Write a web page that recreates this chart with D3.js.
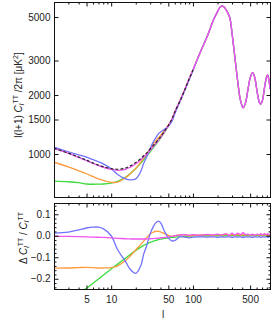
<!DOCTYPE html>
<html>
<head>
<meta charset="utf-8">
<script src="https://cdn.jsdelivr.net/npm/d3@7"></script>
<style>
body { margin: 0; background: #fff; }
svg text { font-family: "Liberation Sans", Arial, sans-serif; font-size: 10px; fill: #222; }
</style>
</head>
<body>
<svg id="chart" width="273" height="329"></svg>
<script>
// multipoles, low part where the models differ and high part where they agree
var ellLow = [2,3,4,5,6,7,8,10,12,15,17,20,23,25,27,30,33,35,38,40,45,50,55,60,70,80,90,100];
var ellHigh = [120,150,180,200,212,224,238,250,280,300,325,355,380,411,440,470,500,536,570,610,650,676,710,750,790,817,850,875];

// l(l+1)C_l/2pi in muK^2
var dlFid = [1070,1010,965,930,900,878,862,842,836,848,868,905,948,980,1010,1060,1110,1140,1190,1220,1310,1400,1500,1640,1880,2140,2420,2680];
var dlHigh = [3230,4000,4880,5330,5580,5690,5640,5500,5020,4150,3135,2295,1890,1722,1830,2130,2440,2600,2450,2070,1830,1800,1890,2180,2450,2530,2380,2150];
var dlMagenta = [1068,1007,961,925,895,872,855,834,826,836,855,891,934,965,995,1045,1095,1126,1176,1208,1300,1393,1496,1640,1886,2151,2427,2693];
var dlBlue = [1083,1027,991,963,936,913,890,842,786,746,738,747,815,897,960,1071,1160,1208,1271,1296,1336,1386,1464,1604,1872,2127,2396,2664];
var dlOrange = [908,859,822,793,767,746,733,717,719,756,790,845,910,956,1000,1068,1129,1164,1214,1242,1323,1403,1496,1638,1889,2146,2420,2685];
var dlGreen = [728,722,714,703,701,702,703,711,726,760,792,843,898,936,971,1027,1082,1115,1169,1200,1294,1386,1488,1630,1872,2134,2415,2677];

// relative difference, low part then high part
var relBlue = [0.012,0.017,0.027,0.036,0.04,0.04,0.033,0.0,-0.065,-0.12,-0.155,-0.175,-0.14,-0.085,-0.05,0.01,0.045,0.06,0.068,0.062,0.02,-0.01,-0.024,-0.022,-0.004,-0.006,-0.01,-0.006,
  -0.005,-0.006,-0.005,-0.007,-0.006,-0.005,-0.006,-0.006,-0.005,-0.007,-0.005,-0.006,-0.005,-0.007,-0.005,-0.006,-0.005,-0.007,-0.005,-0.006,-0.005,-0.007,-0.005,-0.006,-0.005,-0.007,-0.005,-0.006];
var relOrange = [-0.151,-0.15,-0.148,-0.147,-0.148,-0.15,-0.15,-0.148,-0.14,-0.115,-0.095,-0.066,-0.04,-0.025,-0.01,0.008,0.017,0.021,0.02,0.018,0.01,0.002,-0.003,-0.001,0.005,0.003,0.0,0.002,
  0.003,0.004,0.002,0.005,0.004,0.003,0.004,0.006,0.002,0.005,0.003,0.006,0.002,0.005,0.003,0.005,0.002,0.005,0.003,0.005,0.002,0.005,0.003,0.005,0.002,0.005,0.003,0.004];
var relGreen = [-0.32,-0.285,-0.26,-0.244,-0.221,-0.201,-0.184,-0.155,-0.132,-0.104,-0.088,-0.068,-0.053,-0.045,-0.039,-0.031,-0.025,-0.022,-0.018,-0.016,-0.012,-0.01,-0.008,-0.006,-0.004,-0.003,-0.002,-0.001,
  0,0,0,0.001,0,0,0,0.001,0,0.001,0,0.001,0,0.001,0,0.001,0,0.001,0,0.001,0,0.001,0,0.001,0,0.001,0,0.001];
var relMagenta = [-0.002,-0.003,-0.004,-0.005,-0.006,-0.007,-0.008,-0.01,-0.012,-0.014,-0.015,-0.015,-0.015,-0.015,-0.015,-0.014,-0.013,-0.012,-0.011,-0.01,-0.008,-0.005,-0.003,0.0,0.003,0.005,0.003,0.005,
  0.003,0.006,0.004,0.008,0.005,0.004,0.007,0.01,0.003,0.012,0.004,0.012,0.005,0.014,0.005,0.008,0.004,0.007,0.003,0.008,0.004,0.01,0.004,0.01,0.004,0.01,0.005,0.008];

var xTicks = [5,10,50,100,500];
var yTopTicks = [1000,1500,2000,3000,5000];
var yBotTicks = [-0.2,-0.1,0.0,0.1];

var colors = {blue:"#7272ff", orange:"#ff9a3c", green:"#3ddc3d", magenta:"#ee55ee"};

var svg = d3.select("#chart");
var ell = ellLow.concat(ellHigh);

var x = d3.scaleLog().domain([2, 875]).range([54, 270]);
var yTop = d3.scaleLog().domain([600, 6000]).range([197.5, 1.5]);
var yBot = d3.scaleLinear().domain([-0.25, 0.15]).range([289.5, 203.5]);

var minorX = [];
[1,10,100].forEach(function(m){
    for (var k=2;k<10;k++){
        var v = k*m;
        if (v>=2 && v<=875 && xTicks.indexOf(v)<0) minorX.push(v);
    }
});
var minorYBot = d3.range(-0.24, 0.15, 0.02).filter(function(v){
    return Math.abs(Math.round(v*10)-v*10) > 0.01;
});

function clip(id, y0, y1){
    svg.append("clipPath").attr("id", id).append("rect")
        .attr("x", 54).attr("y", y0).attr("width", 216).attr("height", y1-y0);
}
clip("clip-top", 2, 197);
clip("clip-bot", 203, 290);

function drawLine(g, xs, ys, yScale, color, dash){
    var pts = xs.map(function(d,i){ return [x(d), yScale(ys[i])]; });
    g.append("path")
        .attr("d", d3.line().curve(d3.curveCatmullRom.alpha(0.5))(pts))
        .attr("fill", "none")
        .attr("stroke", color)
        .attr("stroke-width", dash ? 1.2 : 1.3)
        .attr("stroke-dasharray", dash ? "3,2" : null);
}

// top panel
var gTop = svg.append("g").attr("clip-path", "url(#clip-top)");
drawLine(gTop, ell, dlGreen.concat(dlHigh), yTop, colors.green);
drawLine(gTop, ell, dlOrange.concat(dlHigh), yTop, colors.orange);
drawLine(gTop, ell, dlBlue.concat(dlHigh), yTop, colors.blue);
drawLine(gTop, ell, dlMagenta.concat(dlHigh), yTop, colors.magenta);
drawLine(gTop, ellLow, dlFid, yTop, "#222", true);

// bottom panel
var gBot = svg.append("g").attr("clip-path", "url(#clip-bot)");
drawLine(gBot, ell, relGreen, yBot, colors.green);
drawLine(gBot, ell, relOrange, yBot, colors.orange);
drawLine(gBot, ell, relBlue, yBot, colors.blue);
drawLine(gBot, ell, relMagenta, yBot, colors.magenta);

// frames and ticks
function frame(y0, y1){
    svg.append("rect").attr("x", 54.5).attr("y", y0+0.5)
        .attr("width", 216).attr("height", y1-y0)
        .attr("fill", "none").attr("stroke", "#111").attr("stroke-width", 1);
}
frame(2, 197);
frame(203, 289);

function xAxes(yBottom, yTopEdge, labels){
    svg.append("g").attr("transform", "translate(0," + (yBottom+0.5) + ")")
        .call(d3.axisBottom(x).tickValues(xTicks).tickSize(-4).tickPadding(6)
            .tickFormat(labels ? d3.format("d") : ""));
    svg.append("g").attr("transform", "translate(0," + (yBottom+0.5) + ")")
        .call(d3.axisBottom(x).tickValues(minorX).tickSize(-2).tickFormat(""));
    svg.append("g").attr("transform", "translate(0," + (yTopEdge+0.5) + ")")
        .call(d3.axisTop(x).tickValues(xTicks).tickSize(-4).tickFormat(""));
    svg.append("g").attr("transform", "translate(0," + (yTopEdge+0.5) + ")")
        .call(d3.axisTop(x).tickValues(minorX).tickSize(-2).tickFormat(""));
}
xAxes(197, 2, false);
xAxes(289, 203, true);

svg.append("g").attr("transform", "translate(54.5,0)")
    .call(d3.axisLeft(yTop).tickValues(yTopTicks).tickSize(-4).tickPadding(4).tickFormat(d3.format("d")));
svg.append("g").attr("transform", "translate(270.5,0)")
    .call(d3.axisRight(yTop).tickValues(yTopTicks).tickSize(-4).tickFormat(""));

var fmtBot = function(v){ return d3.format(".1f")(v).replace("-", "\u2212"); };
svg.append("g").attr("transform", "translate(54.5,0)")
    .call(d3.axisLeft(yBot).tickValues(yBotTicks).tickSize(-4).tickPadding(4).tickFormat(fmtBot));
svg.append("g").attr("transform", "translate(54.5,0)")
    .call(d3.axisLeft(yBot).tickValues(minorYBot).tickSize(-2).tickFormat(""));
svg.append("g").attr("transform", "translate(270.5,0)")
    .call(d3.axisRight(yBot).tickValues(yBotTicks).tickSize(-4).tickFormat(""));
svg.append("g").attr("transform", "translate(270.5,0)")
    .call(d3.axisRight(yBot).tickValues(minorYBot).tickSize(-2).tickFormat(""));

svg.selectAll(".domain").remove();
svg.selectAll(".tick line").attr("stroke", "#111");
svg.selectAll(".tick text").style("font-family", "'Liberation Sans', Arial, sans-serif")
    .style("font-size", "10px").attr("fill", "#222");

// axis titles
var t1 = svg.append("text").attr("transform", "translate(22,95) rotate(-90)")
    .attr("text-anchor", "middle");
t1.append("tspan").text("l(l+1) ");
t1.append("tspan").attr("font-style", "italic").text("C");
t1.append("tspan").attr("dy", 2).style("font-size", "7px").attr("font-style", "italic").text("l");
t1.append("tspan").attr("dy", -6).style("font-size", "7px").text("TT");
t1.append("tspan").attr("dy", 4).text(" /2\u03c0  [\u03bcK");
t1.append("tspan").attr("dy", -4).style("font-size", "7px").text("2");
t1.append("tspan").attr("dy", 4).text("]");

var t2 = svg.append("text").attr("transform", "translate(27,238) rotate(-90)")
    .attr("text-anchor", "middle");
t2.append("tspan").text("\u0394 ");
t2.append("tspan").attr("font-style", "italic").text("C");
t2.append("tspan").attr("dy", 2).style("font-size", "7px").attr("font-style", "italic").text("l");
t2.append("tspan").attr("dy", -6).style("font-size", "7px").text("TT");
t2.append("tspan").attr("dy", 4).text("  /  ");
t2.append("tspan").attr("font-style", "italic").text("C");
t2.append("tspan").attr("dy", 2).style("font-size", "7px").attr("font-style", "italic").text("l");
t2.append("tspan").attr("dy", -6).style("font-size", "7px").text("TT");

svg.append("text").attr("x", 163).attr("y", 318).attr("text-anchor", "middle").text("l");
</script>
</body>
</html>
